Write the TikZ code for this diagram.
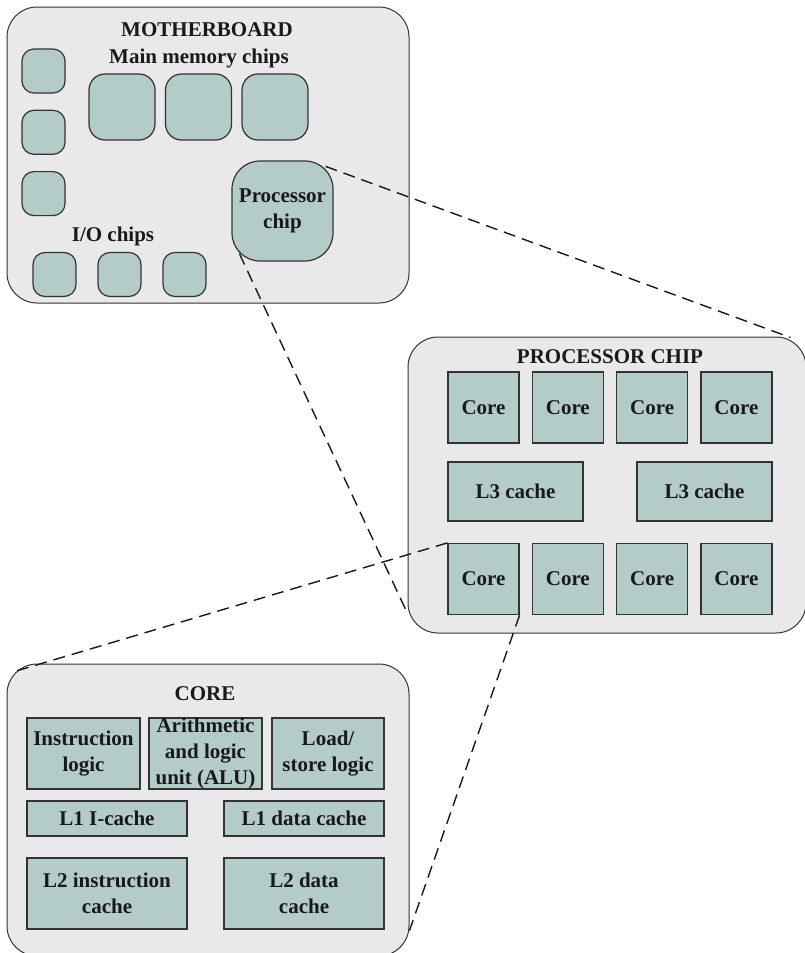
\documentclass[tikz,border=0pt]{standalone}
\usepackage{fontspec}
\setmainfont{Liberation Serif}
\usepackage{xcolor}
\usetikzlibrary{positioning,calc}
\definecolor{boardgray}{HTML}{E9E9E9}
\definecolor{chipteal}{HTML}{B3CCC9}
\definecolor{edgegray}{HTML}{333333}

\begin{document}
\begin{tikzpicture}[x=1pt,y=-1pt,on grid,
    font=\fontsize{21}{26}\selectfont\bfseries,
    board/.style={draw=edgegray,line width=1pt,fill=boardgray,rounded corners=30pt,inner sep=0pt},
    chip/.style={draw=edgegray,line width=1.2pt,fill=chipteal,inner sep=0pt,align=center,text=black!90},
    iochip/.style={chip,rounded corners=12pt,minimum width=43pt,minimum height=44pt},
    memchip/.style={chip,rounded corners=16pt,minimum size=66pt},
    corebox/.style={chip,minimum size=71pt},
    title/.style={anchor=base,text=black!90},
    zoomline/.style={draw=black!90,line width=1.4pt,dash pattern=on 12pt off 7pt}]
   \useasboundingbox (0,0) rectangle (805,953);

   % motherboard
   \node[board,minimum width=402pt,minimum height=296pt] (mb) at (208,155) {};
   \node[title] (mbtitle) at (207,36) {MOTHERBOARD};
   \node[title] (memtitle) at (199,63) {Main memory chips};
   \node[title] (iotitle) at (113,241) {I/O chips};
   \node[iochip] (io1) at (43.5,71) {};
   \node[iochip] (io2) [below=61.3pt of io1] {};
   \node[iochip] (io3) [below=61.3pt of io2] {};
   \node[iochip] (io4) at (54.5,274.5) {};
   \node[iochip] (io5) [right=65pt of io4] {};
   \node[iochip] (io6) [right=65pt of io5] {};
   \node[memchip] (mem1) at (122,107) {};
   \node[memchip] (mem2) [right=76.5pt of mem1] {};
   \node[memchip] (mem3) [right=76.5pt of mem2] {};
   \node[chip,rounded corners=28pt,minimum width=101pt,minimum height=100pt] (proc) at (282.5,211) {Processor\\chip};

   % processor chip
   \node[board,minimum width=398pt,minimum height=296pt] (pbox) at (607,485) {};
   \node[title] (ptitle) at (610,363) {PROCESSOR CHIP};
   \node[corebox] (c1) at (483.5,407.5) {Core};
   \node[corebox] (c2) [right=84.3pt of c1] {Core};
   \node[corebox] (c3) [right=84.3pt of c2] {Core};
   \node[corebox] (c4) [right=84.3pt of c3] {Core};
   \node[chip,minimum width=135pt,minimum height=59pt] (l3a) at (515.5,491.5) {L3 cache};
   \node[chip,minimum width=135pt,minimum height=59pt] (l3b) [right=189pt of l3a] {L3 cache};
   \node[corebox] (c5) at (483.5,579) {Core};
   \node[corebox] (c6) [right=84.3pt of c5] {Core};
   \node[corebox] (c7) [right=84.3pt of c6] {Core};
   \node[corebox] (c8) [right=84.3pt of c7] {Core};

   % core
   \node[board,minimum width=402pt,minimum height=292pt] (cbox) at (208,810) {};
   \node[title] (ctitle) at (205,700) {CORE};
   \node[chip,minimum width=113pt,minimum height=71pt] (ilogic) at (83.5,753.5) {Instruction\\logic};
   \node[chip,minimum width=113pt,minimum height=71pt] (alu) [right=122pt of ilogic] {Arithmetic\\and logic\\unit (ALU)};
   \node[chip,minimum width=112pt,minimum height=71pt] (lslogic) [right=122.5pt of alu] {Load/\\store logic};
   \node[chip,minimum width=160pt,minimum height=35pt] (l1i) at (107,818.5) {L1 I-cache};
   \node[chip,minimum width=160pt,minimum height=35pt] (l1d) [right=197pt of l1i] {L1 data cache};
   \node[chip,minimum width=160pt,minimum height=71pt] (l2i) at (107,893.5) {L2 instruction\\cache};
   \node[chip,minimum width=160pt,minimum height=71pt] (l2d) [right=197pt of l2i] {L2 data\\cache};

   \draw[zoomline] ($(proc.north east)+(-8,6)$) -- ($(pbox.north east)+(-16,1)$);
   \draw[zoomline] ($(proc.south west)+(8,-8)$) -- ($(pbox.south west)+(0,-20)$);
   \draw[zoomline] (c5.north west) -- ($(cbox.north west)+(8,8)$);
   \draw[zoomline] (c5.south east) -- ($(cbox.south east)+(0,-26)$);
\end{tikzpicture}
\end{document}
